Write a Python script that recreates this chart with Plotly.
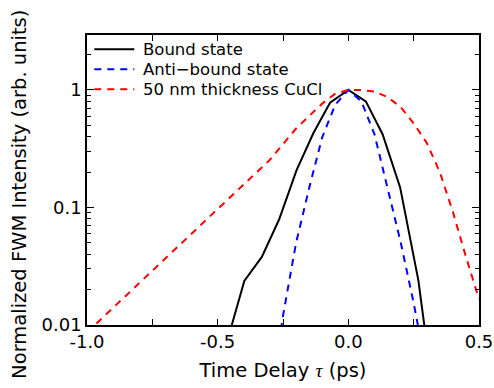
import plotly.graph_objects as go

# Bound state (black solid)
tau_bound = [-0.465, -0.398, -0.331, -0.265, -0.198, -0.134, -0.070, 0.0, 0.067, 0.131, 0.198, 0.268, 0.335]
int_bound = [0.0071, 0.0237, 0.038, 0.079, 0.208, 0.428, 0.78, 1.0, 0.80, 0.42, 0.149, 0.024, 0.0018]

# Anti-bound state (blue dashed)
tau_anti = [-0.30, -0.25, -0.20, -0.15, -0.10, -0.05, 0.0, 0.05, 0.10, 0.15, 0.20, 0.25, 0.30]
int_anti = [0.002, 0.012, 0.050, 0.146, 0.396, 0.75, 1.0, 0.80, 0.42, 0.15, 0.051, 0.0154, 0.004]

# 50 nm thickness CuCl (red dashed)
tau_cucl = [-1.0, -0.9, -0.8, -0.7, -0.6, -0.5, -0.4, -0.3, -0.2, -0.1, -0.05, 0.0, 0.05, 0.1,
            0.15, 0.2, 0.25, 0.3, 0.35, 0.4, 0.45, 0.5]
int_cucl = [0.00865, 0.014, 0.0228, 0.0369, 0.0598, 0.097, 0.157, 0.255, 0.47, 0.766, 0.93, 1.0, 1.0, 0.97,
            0.87, 0.716, 0.52, 0.355, 0.20, 0.092, 0.038, 0.0166]

series_names = ["Bound state", "Anti\u2212bound state", "50 nm thickness CuCl"]
series_colors = ["black", "#0000ff", "#ff0000"]
series_dash = ["solid", "7px,6px", "7px,6px"]

x_tickvals = [-1.0, -0.75, -0.5, -0.25, 0.0, 0.25, 0.5]
x_ticktext = ["-1.0", "", "-0.5", "", "0.0", "", "0.5"]
y_tickvals = [0.01, 0.1, 1]
y_ticktext = ["0.01", "0.1", "1"]

FONT = "DejaVu Sans, Liberation Sans, Arial, sans-serif"

fig = go.Figure()
data = [(tau_bound, int_bound), (tau_anti, int_anti), (tau_cucl, int_cucl)]
for (xs, ys), nm, col, dsh in zip(data, series_names, series_colors, series_dash):
    fig.add_trace(go.Scatter(x=xs, y=ys, mode="lines", name=nm,
                             line=dict(color=col, width=2, dash=dsh), showlegend=False))

# manual legend (to match the tight row spacing of the reference)
leg_rows = [0.9507, 0.8817, 0.8128]
for yr, nm, col, dsh in zip(leg_rows, series_names, series_colors, series_dash):
    fig.add_shape(type="line", xref="x domain", yref="y domain",
                  x0=0.0186, x1=0.1207, y0=yr, y1=yr,
                  line=dict(color=col, width=2, dash=dsh))
    fig.add_annotation(xref="x domain", yref="y domain", x=0.1378, y=yr,
                       xanchor="left", yanchor="middle", showarrow=False,
                       text=nm, font=dict(size=16.5, family=FONT, color="black"))

# y-axis title placed like the reference (slightly below the plot centre)
fig.add_annotation(xref="paper", yref="paper", x=-0.171, y=0.452,
                   xanchor="center", yanchor="middle", showarrow=False, textangle=-90,
                   text="Normalized FWM Intensity (arb. units)",
                   font=dict(size=19.5, family=FONT, color="black"))

fig.update_layout(
    width=494, height=388,
    margin=dict(l=87, r=15, t=35, b=63),
    paper_bgcolor="white", plot_bgcolor="white",
    font=dict(family=FONT, color="black", size=18),
    showlegend=False,
)
fig.update_xaxes(range=[-1.0, 0.5], tickvals=x_tickvals, ticktext=x_ticktext,
                 ticks="inside", ticklen=6, tickwidth=1, tickcolor="black",
                 showline=True, linecolor="black", linewidth=1.5, mirror="ticks",
                 showgrid=False, zeroline=False, automargin=False,
                 tickfont=dict(size=18),
                 title=dict(text="Time Delay <span style=\"font-family:'Liberation Serif', serif\"><i>\u03c4</i></span> (ps)",
                            font=dict(size=19.5), standoff=12))
fig.update_yaxes(type="log", range=[-2, 0.468], tickvals=y_tickvals, ticktext=y_ticktext,
                 ticks="inside", ticklen=7, tickwidth=1, tickcolor="black",
                 minor=dict(ticks="inside", ticklen=4, tickcolor="black", dtick="D1", showgrid=False),
                 showline=True, linecolor="black", linewidth=1.5, mirror="ticks",
                 showgrid=False, zeroline=False, automargin=False,
                 tickfont=dict(size=18))

fig.write_html("out.html")
